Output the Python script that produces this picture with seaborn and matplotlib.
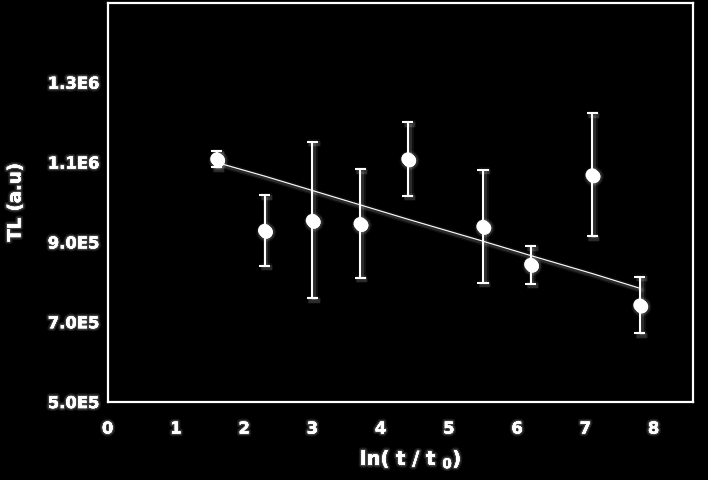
import matplotlib
matplotlib.use("Agg")
import matplotlib.pyplot as plt
import matplotlib.patheffects as pe
from matplotlib.ticker import MultipleLocator, FixedLocator
import seaborn as sns
import pandas as pd

# data
x_vals = [1.6, 2.3, 3.0, 3.7, 4.4, 5.5, 6.2, 7.1, 7.8]
tl_vals = [1.109e6, 9.30e5, 9.55e5, 9.47e5, 1.109e6, 9.40e5, 8.45e5, 1.069e6, 7.43e5]
err_lo = [2.0e4, 8.8e4, 1.94e5, 1.35e5, 9.2e4, 1.41e5, 4.8e4, 1.54e5, 7.0e4]
err_hi = [1.9e4, 8.9e4, 1.97e5, 1.36e5, 9.2e4, 1.42e5, 4.6e4, 1.54e5, 7.1e4]
fit_vals = [1.100e6, 1.066e6, 1.030e6, 0.994e6, 0.958e6, 0.903e6, 0.867e6, 0.822e6, 0.785e6]
y_tick_labels = ["5.0E5", "7.0E5", "9.0E5", "1.1E6", "1.3E6"]
y_tick_vals = [5e5, 7e5, 9e5, 1.1e6, 1.3e6]

df = pd.DataFrame({"x": x_vals, "tl": tl_vals, "fit": fit_vals})

sns.set_style("dark")
plt.rcParams["font.family"] = ["DejaVu Sans"]
plt.rcParams["mathtext.fontset"] = "custom"
plt.rcParams["mathtext.rm"] = "DejaVu Sans:bold"
plt.rcParams["mathtext.it"] = "DejaVu Sans:bold"
plt.rcParams["mathtext.default"] = "rm"


def glow_for(lw):
    return [pe.Stroke(linewidth=lw + 4, foreground=(1, 1, 1, 0.06), offset=(1.2, -1.2)),
            pe.Stroke(linewidth=lw + 2, foreground=(1, 1, 1, 0.12), offset=(1.2, -1.2)),
            pe.Normal()]


tglow = [pe.withStroke(linewidth=4, foreground=(1, 1, 1, 0.10)),
         pe.withStroke(linewidth=2, foreground=(1, 1, 1, 0.18)), pe.Normal()]

fig = plt.figure(figsize=(7.08, 4.81), dpi=100, facecolor="black")
ax = fig.add_axes([0.152, 0.162, 0.827, 0.830])
ax.set_facecolor("black")

ax.errorbar(x_vals, tl_vals, yerr=[err_lo, err_hi], fmt="none", ecolor="white",
            elinewidth=1.5, capsize=4, capthick=1.5, zorder=2)
sns.lineplot(data=df, x="x", y="fit", ax=ax, color="white", linewidth=0.8, zorder=3)
sns.scatterplot(data=df, x="x", y="tl", ax=ax, color="white", s=90, edgecolor="white",
                linewidth=0, zorder=4)

for ln in ax.lines:
    ln.set_path_effects(glow_for(ln.get_linewidth()))
for coll in ax.collections:
    coll.set_path_effects(glow_for(1.0))

ax.set_xlim(0, 8.58)
ax.set_ylim(5e5, 1.5e6)
ax.xaxis.set_major_locator(MultipleLocator(1))
ax.xaxis.set_minor_locator(MultipleLocator(0.5))
ax.yaxis.set_major_locator(FixedLocator(y_tick_vals))
ax.set_yticklabels(y_tick_labels)
ax.yaxis.set_minor_locator(MultipleLocator(1e5))
ax.tick_params(axis="both", which="both", direction="in", colors="white", width=1.2,
               labelsize=11.8, labelcolor="white")
ax.tick_params(which="major", length=5)
ax.tick_params(which="minor", length=5)
ax.tick_params(axis="x", pad=14)
ax.tick_params(axis="y", pad=6)
for lab in ax.get_xticklabels() + ax.get_yticklabels():
    lab.set_fontweight("bold")
    lab.set_path_effects(tglow)

for sp in ax.spines.values():
    sp.set_color("white")
    sp.set_linewidth(1.6)
    sp.set_visible(True)
ax.grid(False)

ax.set_xlabel("ln( t / t $_0$)", color="white", fontsize=14, fontweight="bold",
              path_effects=tglow)
ax.xaxis.set_label_coords(0.518, -0.115)
ax.set_ylabel("TL (a.u)", color="white", fontsize=13, fontweight="bold",
              path_effects=tglow)
ax.yaxis.set_label_coords(-0.142, 0.5)

fig.savefig("out.png", dpi=100, facecolor="black")
